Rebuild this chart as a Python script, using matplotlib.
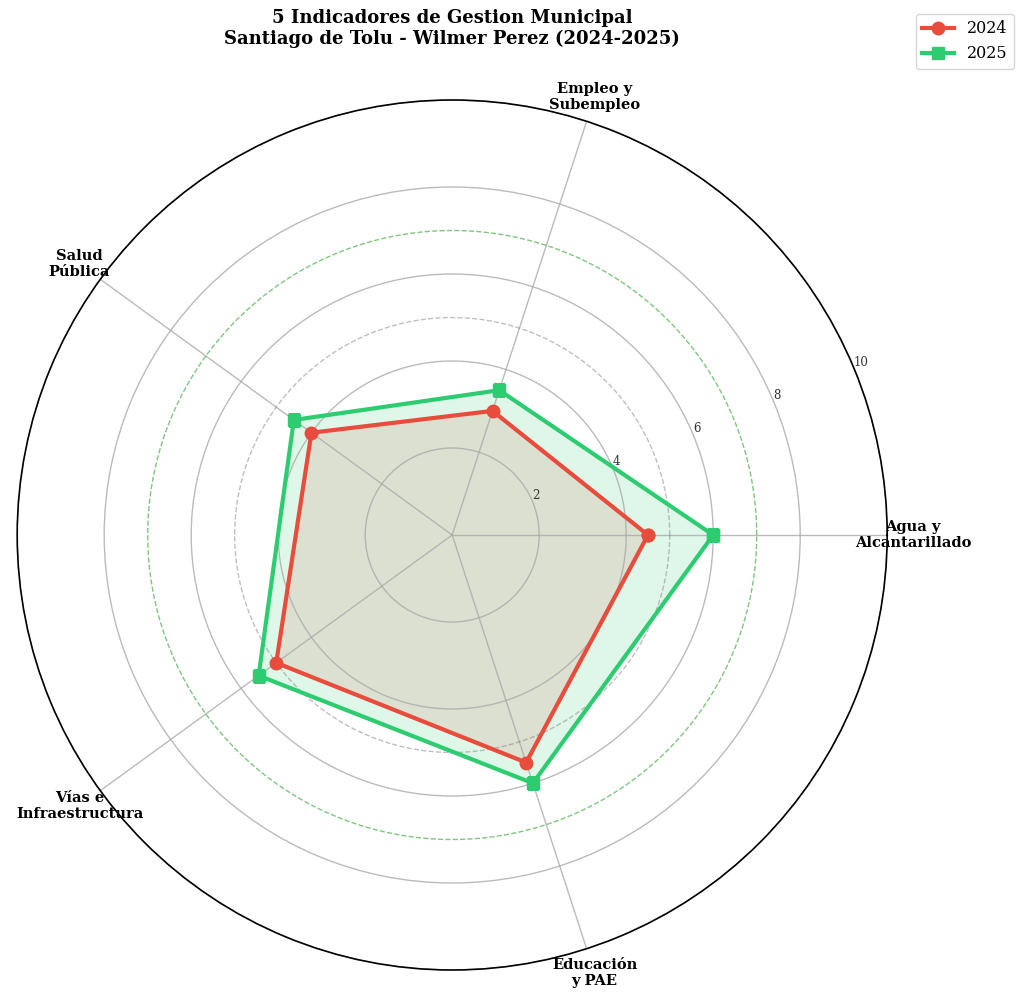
import numpy as np
import matplotlib.pyplot as plt

plt.rcParams['font.family'] = ['DejaVu Serif']

categorias = ['Agua y\nAlcantarillado', 'Empleo y\nSubempleo', 'Salud\nPública',
              'Vías e\nInfraestructura', 'Educación\ny PAE']
valores_2024 = [4.5, 3.0, 4.0, 5.0, 5.5]
valores_2025 = [6.0, 3.5, 4.5, 5.5, 6.0]
ticks_r = [2, 4, 6, 8, 10]

n = len(categorias)
angulos = np.linspace(0, 2 * np.pi, n, endpoint=False).tolist()
angulos_c = angulos + angulos[:1]
v24 = valores_2024 + valores_2024[:1]
v25 = valores_2025 + valores_2025[:1]

fig = plt.figure(figsize=(10.24, 10), dpi=100)
ax = fig.add_axes([0.0166, 0.03, 0.85, 0.87], projection='polar')

# circulos de referencia
t = np.linspace(0, 2 * np.pi, 300)
ax.plot(t, np.full_like(t, 5), color='gray', ls='--', lw=1, alpha=0.5)
ax.plot(t, np.full_like(t, 7), color='#2ca02c', ls='--', lw=1, alpha=0.6)

ax.plot(angulos_c, v24, color='#e74c3c', lw=3, marker='o', ms=9, label='2024')
ax.fill(angulos_c, v24, color='#e74c3c', alpha=0.15)
ax.plot(angulos_c, v25, color='#2ecc71', lw=3, marker='s', ms=9, label='2025')
ax.fill(angulos_c, v25, color='#2ecc71', alpha=0.15)

ax.set_xticks(angulos)
ax.set_xticklabels(categorias, fontsize=10.5, fontweight='bold')
ax.tick_params(axis='x', pad=8)
ax.set_ylim(0, 10)
ax.set_yticks(ticks_r)
ax.set_yticklabels([str(v) for v in ticks_r], fontsize=8.5, color='#333333')
ax.set_rlabel_position(22.5)
ax.grid(True, color='#aaaaaa', lw=1, alpha=0.8)
ax.spines['polar'].set_color('black')
ax.spines['polar'].set_linewidth(1.2)

ax.set_title('5 Indicadores de Gestion Municipal\nSantiago de Tolu - Wilmer Perez (2024-2025)',
             fontsize=13, fontweight='bold', pad=40)
fig.legend(loc='upper right', bbox_to_anchor=(0.998, 0.994), fontsize=11.5)

fig.savefig('out.png', dpi=100)
